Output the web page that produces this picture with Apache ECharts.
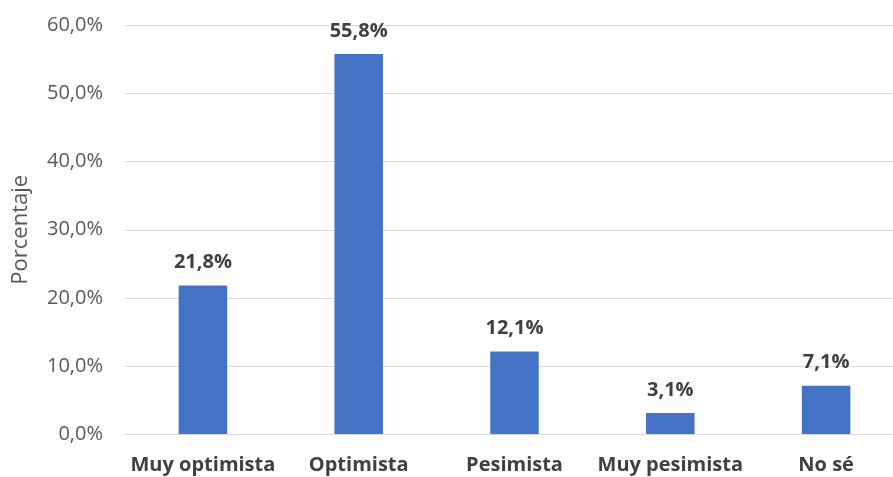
<!DOCTYPE html>
<html><head><meta charset="utf-8">
<script src="https://cdn.jsdelivr.net/npm/echarts@6/dist/echarts.min.js"></script>
<style>html,body{margin:0;padding:0;background:#fff;overflow:hidden}#c{width:904px;height:477px}</style>
</head><body><div id="c"></div>
<script>
const categories = ['Muy optimista', 'Optimista', 'Pesimista', 'Muy pesimista', 'No sé'];
const values = [21.8, 55.8, 12.1, 3.1, 7.1];
const yTicks = [0, 10, 20, 30, 40, 50, 60];
const yAxisName = 'Porcentaje';

const fmt = v => v.toFixed(1).replace('.', ',') + '%';
const FONT = '"Open Sans", sans-serif';
const chart = echarts.init(document.getElementById('c'));
chart.setOption({
  animation: false,
  grid: { left: 125, top: 25.5, right: 0, bottom: 43, containLabel: false },
  xAxis: {
    type: 'category', data: categories,
    axisLine: { show: true, lineStyle: { color: '#D9D9D9', width: 1 } },
    axisTick: { show: false },
    axisLabel: { interval: 0, color: '#404040', fontSize: 20, fontWeight: 'bold', fontFamily: FONT, margin: 21 }
  },
  yAxis: {
    type: 'value', min: yTicks[0], max: yTicks[yTicks.length - 1], interval: 10,
    name: yAxisName, nameLocation: 'middle', nameGap: 93, nameRotate: 90,
    nameTextStyle: { color: '#595959', fontSize: 22, fontFamily: FONT },
    axisLine: { show: false }, axisTick: { show: false },
    splitLine: { lineStyle: { color: '#D9D9D9', width: 1 } },
    axisLabel: { color: '#595959', fontSize: 20, fontFamily: FONT, margin: 22, formatter: v => fmt(v) }
  },
  series: [{
    type: 'bar', data: values, barWidth: 48.5,
    itemStyle: { color: '#4472C4' },
    label: { show: true, position: 'top', distance: 13, color: '#404040', fontSize: 20, fontWeight: 'bold', fontFamily: FONT, formatter: p => fmt(p.value) }
  }]
});
</script></body></html>
